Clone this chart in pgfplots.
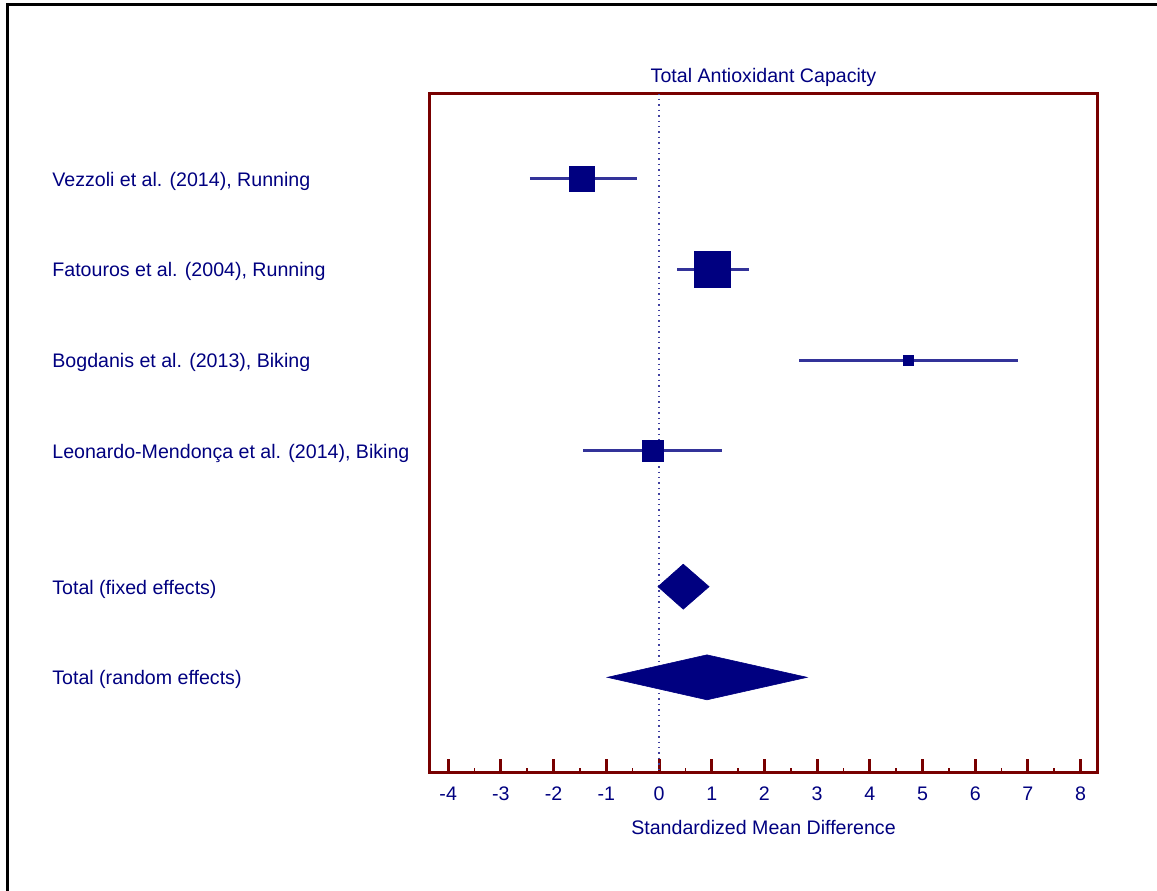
\documentclass[border=0pt]{standalone}
\usepackage{fontspec}
\setmainfont{Liberation Sans}
\usepackage{pgfplots}
\pgfplotsset{compat=1.18}
\definecolor{navy}{RGB}{0,0,128}
\definecolor{cil}{RGB}{51,51,153}
\definecolor{framered}{RGB}{120,0,0}
\newcommand{\lblfont}{\fontsize{9.8}{12}\selectfont}
\begin{document}
\begin{tikzpicture}
\path[use as bounding box] (0pt,0pt) rectangle (578.5pt,-445pt);
\draw[line width=1.25pt,black] (3.75pt,-446pt) -- (3.75pt,-2.25pt) -- (579pt,-2.25pt);
\begin{axis}[
  at={(214.75pt,-386.25pt)}, anchor=south west,
  width=334pt, height=339.5pt, scale only axis,
  xmin=-4.355, xmax=8.32, ymin=0.06, ymax=7.55, y dir=reverse,
  axis line style={framered, line width=1.5pt},
  xtick={-4,-3,-2,-1,0,1,2,3,4,5,6,7,8}, minor x tick num=1,
  xtick pos=left, tick align=inside,
  major tick length=7pt, minor tick length=2.5pt,
  x tick style={framered},
  major x tick style={line width=1.5pt},
  minor x tick style={line width=0.8pt},
  ytick={1,2,3,4,5.5,6.5},
  yticklabels={{Vezzoli et al. (2014), Running},{Fatouros et al. (2004), Running},{Bogdanis et al. (2013), Biking},{Leonardo-Mendonça et al. (2014), Biking},{Total (fixed effects)},{Total (random effects)}},
  ytick pos=left, y tick style={draw=none}, major tick length=7pt,
  ticklabel style={font=\lblfont, text=navy},
  yticklabel style={anchor=west, inner sep=0pt, xshift=-188.75pt, yshift=-1.2pt},
  xticklabel style={anchor=center, yshift=-10.75pt},
  /pgf/number format/assume math mode=true,
  title={Total Antioxidant Capacity},
  title style={font=\lblfont, text=navy, at={(axis description cs:0.5,1)}, anchor=center, yshift=2.25pt},
  xlabel={Standardized Mean Difference},
  xlabel style={font=\lblfont, text=navy, at={(axis description cs:0.5,0)}, anchor=center, yshift=-27.25pt},
  clip=false,
]
% zero line
\addplot[navy!75, dotted, line width=0.7pt] coordinates {(0,0.06) (0,7.55)};
% CIs
\addplot[cil, line width=1.5pt] coordinates {(-2.45,1) (-0.41,1)};
\addplot[cil, line width=1.5pt] coordinates {(0.35,2) (1.71,2)};
\addplot[cil, line width=1.5pt] coordinates {(2.66,3) (6.81,3)};
\addplot[cil, line width=1.5pt] coordinates {(-1.44,4) (1.20,4)};
% point estimates
\addplot[only marks, mark=square*, mark size=6.3pt, mark options={fill=navy, draw=navy, line width=0.2pt}] coordinates {(-1.47,1)};
\addplot[only marks, mark=square*, mark size=8.9pt, mark options={fill=navy, draw=navy, line width=0.2pt}] coordinates {(1.01,2)};
\addplot[only marks, mark=square*, mark size=2.6pt, mark options={fill=navy, draw=navy, line width=0.2pt}] coordinates {(4.73,3)};
\addplot[only marks, mark=square*, mark size=5.3pt, mark options={fill=navy, draw=navy, line width=0.2pt}] coordinates {(-0.12,4)};
% pooled diamonds
\addplot[fill=navy, draw=navy, line width=0.3pt] coordinates {(-0.02,5.5) (0.46,5.252) (0.95,5.5) (0.46,5.748)} --cycle;
\addplot[fill=navy, draw=navy, line width=0.3pt] coordinates {(-0.98,6.5) (0.91,6.252) (2.81,6.5) (0.91,6.748)} --cycle;
\end{axis}
\end{tikzpicture}
\end{document}
